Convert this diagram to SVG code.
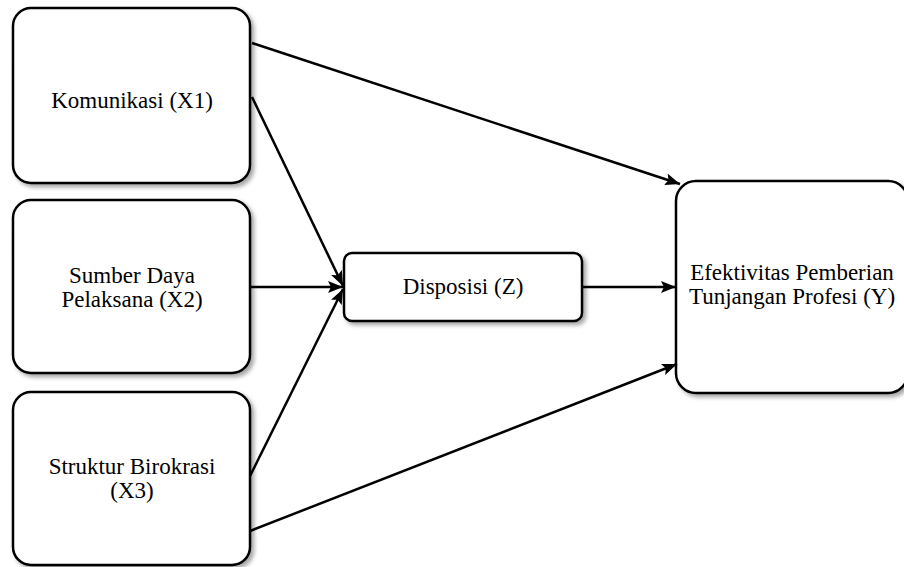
<svg xmlns="http://www.w3.org/2000/svg" width="904" height="567" viewBox="0 0 904 567">
<defs>
<filter id="sh" x="-10%" y="-10%" width="130%" height="130%">
<feDropShadow dx="3" dy="3" stdDeviation="2" flood-color="#000" flood-opacity="0.35"/>
</filter>
<marker id="ah" markerUnits="userSpaceOnUse" markerWidth="16" markerHeight="12" refX="15" refY="6" orient="auto">
<path d="M0,0 L15,6 L0,12 L3,6 Z" fill="#000"/>
</marker>
<style>
.box{fill:#fff;stroke:#000;stroke-width:2.5;filter:url(#sh)}
text{font-family:'Liberation Serif','Times New Roman','DejaVu Serif',serif;font-size:23px;fill:#000;text-anchor:middle}
.con{stroke:#000;stroke-width:2.5;fill:none;marker-end:url(#ah)}
</style>
</defs>
<rect width="904" height="567" fill="#fff"/>
<g font-family="Liberation Serif, Times New Roman, serif" font-size="23" text-anchor="middle">
<g id="x1">
<rect class="box" x="13" y="8" width="237" height="175" rx="18"/>
<text x="132" y="108">Komunikasi (X1)</text>
</g>
<g id="x2">
<rect class="box" x="13" y="200" width="237" height="173" rx="18"/>
<text x="132" y="283">Sumber Daya</text>
<text x="132" y="307">Pelaksana (X2)</text>
</g>
<g id="x3">
<rect class="box" x="13" y="392" width="237" height="173" rx="18"/>
<text x="132" y="474">Struktur Birokrasi</text>
<text x="132" y="498">(X3)</text>
</g>
<g id="z">
<rect class="box" x="344" y="253" width="238" height="68" rx="8"/>
<text x="463" y="294">Disposisi (Z)</text>
</g>
<g id="y">
<rect class="box" x="676" y="181" width="232" height="212" rx="20"/>
<text x="792" y="280">Efektivitas Pemberian</text>
<text x="792" y="304">Tunjangan Profesi (Y)</text>
</g>
</g>
<g id="connectors">
<line class="con" x1="252" y1="43" x2="680" y2="184"/>
<line class="con" x1="252" y1="97" x2="343" y2="286"/>
<line class="con" x1="250" y1="287" x2="343" y2="287"/>
<line class="con" x1="250" y1="476" x2="343" y2="289"/>
<line class="con" x1="250" y1="531" x2="677" y2="364"/>
<line class="con" x1="582" y1="287" x2="676" y2="287"/>
</g>
</svg>
